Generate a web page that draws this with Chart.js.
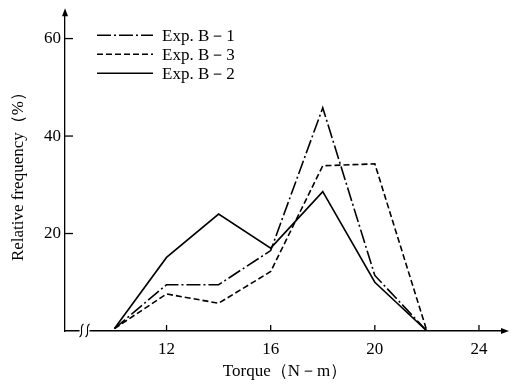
<!DOCTYPE html>
<html>
<head>
<meta charset="utf-8">
<script src="https://cdn.jsdelivr.net/npm/chart.js@4/dist/chart.umd.min.js"></script>
<style>
  html, body { margin: 0; padding: 0; background: #fff; }
  #wrap { width: 513px; height: 388px; }
</style>
</head>
<body>
<div id="wrap"><canvas id="chart" width="513" height="388"></canvas></div>
<script>
/* Relative frequency vs torque — three experiments */

const torque = [10, 12, 14, 16, 18, 20, 22];
const expB1 = [0.5, 9.5, 9.5, 16.5, 45.8, 11.4, 0];
const expB3 = [0.5, 7.6, 5.7, 12.2, 33.9, 34.3, 0];
const expB2 = [0.5, 15.1, 24.0, 17.0, 28.6, 10.0, 0];
const xTicks = [12, 16, 20, 24];
const yTicks = [20, 40, 60];
const seriesNames = ['Exp. B－1', 'Exp. B－3', 'Exp. B－2'];

const SERIF = '"Liberation Serif", "DejaVu Serif", serif';

function points(values) {
    return values.map(function (v, i) { return { x: torque[i], y: v }; });
}

// tick marks point into the plot, arrows on the axis ends, axis break, legend
const decorPlugin = {
    id: 'decor',
    afterDraw: function (chart) {
        const ctx = chart.ctx;
        const xs = chart.scales.x;
        const ys = chart.scales.y;
        const area = chart.chartArea;
        ctx.save();
        ctx.strokeStyle = '#000';
        ctx.fillStyle = '#000';
        ctx.lineWidth = 1.3;

        // inward ticks
        xTicks.forEach(function (t) {
            const px = xs.getPixelForValue(t);
            ctx.beginPath();
            ctx.moveTo(px, area.bottom);
            ctx.lineTo(px, area.bottom - 6);
            ctx.stroke();
        });
        yTicks.forEach(function (t) {
            const py = ys.getPixelForValue(t);
            ctx.beginPath();
            ctx.moveTo(area.left, py);
            ctx.lineTo(area.left + 8, py);
            ctx.stroke();
        });

        // arrow heads
        ctx.beginPath();
        ctx.moveTo(area.left, area.top - 6);
        ctx.lineTo(area.left - 3, area.top + 2);
        ctx.lineTo(area.left + 3, area.top + 2);
        ctx.closePath();
        ctx.fill();
        ctx.beginPath();
        ctx.moveTo(area.right + 4, area.bottom);
        ctx.lineTo(area.right - 4, area.bottom - 3);
        ctx.lineTo(area.right - 4, area.bottom + 3);
        ctx.closePath();
        ctx.fill();

        // axis break mark
        const bx = xs.getPixelForValue(8.85);
        ctx.fillStyle = '#fff';
        ctx.fillRect(bx - 5, area.bottom - 2, 10, 4);
        ctx.lineWidth = 1.1;
        [-3, 3].forEach(function (off) {
            const cx = bx + off;
            ctx.beginPath();
            ctx.moveTo(cx + 2, area.bottom - 7);
            ctx.bezierCurveTo(cx - 3, area.bottom - 4, cx + 3, area.bottom + 3, cx - 2, area.bottom + 6);
            ctx.stroke();
        });

        // legend
        const dashes = [[14, 3, 2, 3], [6, 3], []];
        ctx.fillStyle = '#000';
        ctx.font = '17px ' + SERIF;
        ctx.textBaseline = 'middle';
        seriesNames.forEach(function (name, i) {
            const y = area.top + 21 + i * 19;
            ctx.lineWidth = 1.6;
            ctx.setLineDash(dashes[i]);
            ctx.beginPath();
            ctx.moveTo(area.left + 32, y);
            ctx.lineTo(area.left + 88, y);
            ctx.stroke();
            ctx.setLineDash([]);
            ctx.fillText(name, area.left + 97, y + 1);
        });
        ctx.restore();
    }
};

new Chart(document.getElementById('chart'), {
    type: 'line',
    data: {
        datasets: [
            { label: seriesNames[0], data: points(expB1), borderDash: [14, 3, 2, 3] },
            { label: seriesNames[1], data: points(expB3), borderDash: [6, 3] },
            { label: seriesNames[2], data: points(expB2), borderDash: [] },
        ].map(function (d) {
            d.borderColor = '#000';
            d.borderWidth = 1.6;
            d.pointRadius = 0;
            d.tension = 0;
            d.fill = false;
            return d;
        }),
    },
    options: {
        responsive: false,
        animation: false,
        layout: { padding: { left: 8, right: 8, top: 10, bottom: 2 } },
        plugins: { legend: { display: false }, tooltip: { enabled: false } },
        scales: {
            x: {
                type: 'linear',
                min: 8.1,
                max: 25,
                afterBuildTicks: function (s) { s.ticks = xTicks.map(function (v) { return { value: v }; }); },
                afterFit: function (s) { s.height = 55; },
                grid: { display: false, drawTicks: false },
                border: { color: '#000', width: 1.5 },
                ticks: { color: '#000', font: { family: SERIF, size: 17 }, padding: 8, maxRotation: 0 },
                title: { display: true, text: 'Torque（N－m）', color: '#000', font: { family: SERIF, size: 17 }, padding: { top: 6 } },
            },
            y: {
                min: 0,
                max: 65,
                afterBuildTicks: function (s) { s.ticks = yTicks.map(function (v) { return { value: v }; }); },
                afterFit: function (s) { s.width = 57; },
                grid: { display: false, drawTicks: false },
                border: { color: '#000', width: 1.3 },
                ticks: { color: '#000', font: { family: SERIF, size: 17 }, padding: 4 },
                title: { display: true, text: 'Relative frequency（%）', color: '#000', font: { family: SERIF, size: 17 }, padding: { bottom: 0, top: 0 } },
            },
        },
    },
    plugins: [decorPlugin],
});
</script>
</body>
</html>
